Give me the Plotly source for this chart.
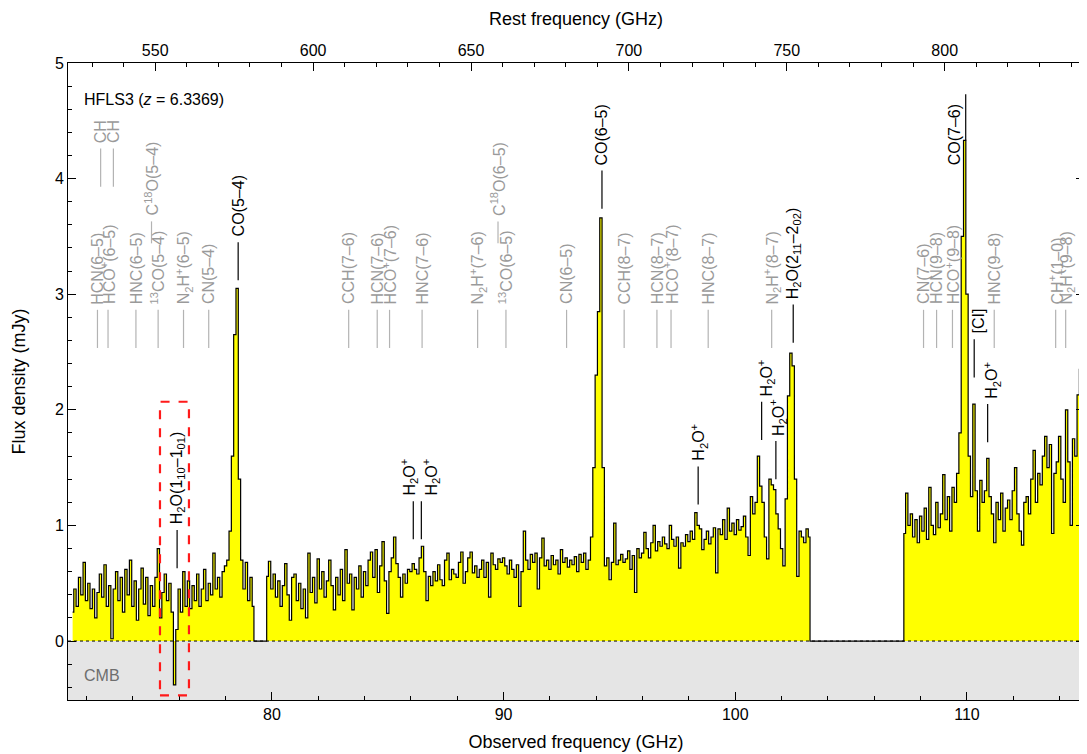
import numpy as np
import plotly.graph_objects as go

Z = 6.3369
CHAN = 0.1  # GHz channel width

# ---- spectrum (flux density in mJy), three observed-frequency segments ----
seg1_start = 71.4
seg1_flux = [0.25, 0.45, 0.30, 0.55, 0.40, 0.68,
             0.35, 0.50, 0.28, 0.45, 0.20, 0.42, 0.58, 0.38, 0.66, 0.30,
             0.48, 0.02, 0.45, 0.60, 0.35, 0.55, 0.25, 0.62, 0.40, 0.70,
             0.30, 0.52, 0.18, 0.45, 0.63, 0.32, 0.55, 0.22, 0.48, 0.30,
             0.55, 0.80, 0.20, 0.42, 0.58, 0.35, 0.50, 0.25, -0.38, 0.10,
             0.45, 0.25, 0.60, 0.30, 0.52, 0.28, 0.48, 0.35, 0.58, 0.30,
             0.45, 0.62, 0.35, 0.50, 0.40, 0.76, 0.45, 0.55, 0.38, 0.60,
             0.65, 0.70, 0.95, 1.60, 2.65, 3.05, 1.40, 0.70, 0.45, 0.68,
             0.35, 0.55, 0.30]

seg2_start = 79.8
seg2_flux = [0.56, 0.69,
             0.45, 0.58, 0.38, 0.52, 0.30, 0.48, 0.67, 0.40, 0.18, 0.55,
             0.58, 0.35, 0.50, 0.28, 0.45, 0.20, 0.76, 0.42, 0.55, 0.33,
             0.71, 0.45, 0.60, 0.38, 0.52, 0.70, 0.48, 0.27, 0.55, 0.40,
             0.62, 0.35, 0.79, 0.50, 0.58, 0.27, 0.55, 0.45, 0.65, 0.38,
             0.60, 0.48, 0.70, 0.77, 0.55, 0.79, 0.42, 0.65, 0.86, 0.52,
             0.24, 0.60, 0.72, 0.90, 0.67, 0.55, 0.38, 0.58, 0.50, 0.62,
             0.60, 0.67, 0.62, 0.58, 0.72, 0.82, 0.60, 0.35, 0.56, 0.48,
             0.60, 0.52, 0.66, 0.53, 0.48, 0.70, 0.76, 0.53, 0.62, 0.58,
             0.55, 0.68, 0.77, 0.50, 0.60, 0.72, 0.77, 0.59, 0.65, 0.55,
             0.62, 0.70, 0.55, 0.68, 0.38, 0.76, 0.66, 0.62, 0.71, 0.68,
             0.72, 0.65, 0.58, 0.70, 0.62, 0.55, 0.66, 0.30, 0.60, 0.95,
             0.70, 0.62, 0.75, 0.68, 0.76, 0.45, 0.72, 0.89, 0.65, 0.70,
             0.62, 0.74, 0.66, 0.70, 0.58, 0.79, 0.68, 0.72, 0.64, 0.70,
             0.66, 0.73, 0.60, 0.75, 0.68, 0.76, 0.62, 0.70, 0.90, 1.50,
             2.30, 2.85, 3.66, 1.50, 0.65, 0.72, 0.53, 0.68, 1.02, 0.66,
             0.70, 0.75, 0.68, 0.71, 0.78, 0.62, 0.74, 0.42, 0.80, 0.72,
             0.76, 0.94, 0.80, 0.72, 0.85, 1.00, 0.78, 0.86, 0.82, 0.90,
             0.84, 0.80, 1.00, 0.88, 0.82, 0.90, 0.63, 0.85, 0.82, 0.92,
             0.86, 0.95, 0.88, 1.11, 1.00, 0.97, 0.79, 0.88, 0.95, 0.84,
             0.90, 0.98, 0.59, 0.97, 0.92, 1.05, 0.88, 1.15, 0.95, 1.02,
             0.92, 1.05, 0.96, 0.99, 1.08, 0.90, 0.74, 1.25, 1.10, 1.20,
             1.60, 1.34, 1.20, 0.90, 0.71, 1.40, 1.35, 1.31, 1.10, 0.97,
             0.80, 0.65, 1.23, 2.12, 2.49, 2.38, 1.40, 0.56, 0.95, 0.90,
             0.85, 0.97, 0.90]

seg3_start = 107.3
seg3_flux = [0.93, 1.28,
             1.00, 1.10, 0.90, 1.05, 0.85,
             1.08, 0.95, 1.15, 0.88, 1.33, 1.00, 0.92, 1.20, 0.98, 1.10,
             1.44, 1.05, 1.25, 0.95, 1.33, 1.20, 1.45, 1.80, 3.50, 4.33,
             3.00, 1.60, 1.25, 2.05, 1.30, 0.95, 1.39, 1.20, 1.30, 1.58,
             1.25, 1.10, 0.85, 1.20, 1.05, 1.28, 0.95, 1.15, 1.22, 1.05,
             1.30, 1.50, 1.10, 0.95, 0.83, 1.20, 1.25, 1.10, 1.40, 1.65,
             1.20, 1.45, 1.35, 1.60, 1.77, 1.50, 1.70, 0.93, 1.45, 1.55,
             1.77, 1.40, 1.20, 2.00, 1.55, 1.00, 1.75, 1.60, 2.13, 2.35,
             1.60]

# ---- line identifications (rest frequencies, GHz) ----
grey_low_names = ["HCN(6–5)", "HCO<sup>+</sup>(6–5)", "HNC(6–5)", "<sup>13</sup>CO(5–4)",
                  "N<sub>2</sub>H<sup>+</sup>(6–5)", "CN(5–4)", "CCH(7–6)", "HCN(7–6)",
                  "HCO<sup>+</sup>(7–6)", "HNC(7–6)", "N<sub>2</sub>H<sup>+</sup>(7–6)",
                  "<sup>13</sup>CO(6–5)", "CN(6–5)", "CCH(8–7)", "HCN(8–7)",
                  "HCO<sup>+</sup>(8–7)", "HNC(8–7)", "N<sub>2</sub>H<sup>+</sup>(8–7)",
                  "CN(7–6)", "HCN(9–8)", "HCO<sup>+</sup>(9–8)", "HNC(9–8)",
                  "CH<sup>+</sup>(1–0)", "N<sub>2</sub>H<sup>+</sup>(9–8)"]
grey_low_rest = [531.716, 535.062, 543.898, 550.926, 558.967, 566.947, 611.267, 620.304,
                 624.208, 634.511, 652.096, 661.067, 680.264, 698.5, 708.877, 713.341,
                 725.107, 745.210, 793.3, 797.433, 802.458, 815.684, 835.137, 838.307]

grey_high_names = ["CH", "CH", "C<sup>18</sup>O(5–4)", "C<sup>18</sup>O(6–5)"]
grey_high_rest = [532.724, 536.761, 548.831, 658.553]

black_names = ["H<sub>2</sub>O(1<sub>10</sub>–1<sub>01</sub>)", "CO(5–4)",
               "H<sub>2</sub>O<sup>+</sup>", "H<sub>2</sub>O<sup>+</sup>", "CO(6–5)",
               "H<sub>2</sub>O<sup>+</sup>", "H<sub>2</sub>O<sup>+</sup>", "H<sub>2</sub>O<sup>+</sup>",
               "H<sub>2</sub>O(2<sub>11</sub>–2<sub>02</sub>)", "CO(7–6)", "[CI]",
               "H<sub>2</sub>O<sup>+</sup>"]
black_rest = [556.936, 576.268, 631.724, 634.274, 691.473, 721.927, 742.033, 746.541,
              752.033, 806.652, 809.342, 813.6]
# label placement (style): base of marker line (mJy), line length, text base, text x offset (px)
black_base = [0.63, 3.12, 0.88, 0.88, 3.74, 1.18, 1.74, 1.40, 2.58, 4.33, 2.28, 1.72]
black_len = [0.33, 0.33, 0.33, 0.33, 0.33, 0.33, 0.33, 0.33, 0.33, 0.40, 0.33, 0.33]
black_text = [None, None, None, None, None, None, None, None, None, 4.10, None, None]
black_xshift = [0, 0, -4, 10, 0, 0, 4, 2, 0, -11, 4, 4]

# ---- build spectrum ----
segments = [(seg1_start, seg1_flux), (seg2_start, seg2_flux), (seg3_start, seg3_flux)]
xs_all, ys_all = [], []
for i, (s, v) in enumerate(segments):
    xs = s + CHAN * np.arange(len(v))
    if i > 0:
        xs_all.append(xs[0] - CHAN / 2); ys_all.append(0.0)
    xs_all.extend(xs.tolist()); ys_all.extend(v)
    if i < len(segments) - 1:
        xs_all.append(xs[-1] + CHAN / 2); ys_all.append(0.0)

XMIN, XMAX = 71.2, 115.05
YMIN, YMAX = -0.51, 5.0
FONT = "Liberation Sans, Arial, Helvetica, sans-serif"
GREY_TXT = "#9a9a9a"
GREY_LN = "#b3b3b3"

fig = go.Figure()
fig.add_trace(go.Scatter(x=xs_all, y=ys_all, mode="lines",
                         line=dict(color="black", width=1.2, shape="hvh"),
                         fill="tozeroy", fillcolor="#ffff00",
                         hoverinfo="skip", showlegend=False))
# dummy trace for rest-frequency axis
fig.add_trace(go.Scatter(x=[XMIN * (1 + Z)], y=[None], xaxis="x2", yaxis="y",
                         mode="markers", showlegend=False, hoverinfo="skip"))

shapes = []
annotations = []
# CMB band
shapes.append(dict(type="rect", xref="paper", yref="y", x0=0, x1=1, y0=YMIN, y1=0,
                   fillcolor="#e5e5e5", line=dict(width=0), layer="below"))
shapes.append(dict(type="line", xref="paper", yref="y", x0=0, x1=1, y0=0, y1=0,
                   line=dict(color="black", width=1, dash="dot"), layer="above"))


def add_label(name, rest, base, length, color, lcolor, xshift=0, text_base=None):
    xo = rest / (1 + Z)
    shapes.append(dict(type="line", xref="x", yref="y", x0=xo, x1=xo, y0=base, y1=base + length,
                       line=dict(color=lcolor, width=1.2)))
    ty = base + length + 0.03 if text_base is None else text_base
    annotations.append(dict(x=xo, y=ty, xref="x", yref="y", text=name,
                            showarrow=False, textangle=-90, xanchor="center", yanchor="bottom",
                            xshift=xshift, font=dict(family=FONT, size=16, color=color)))


for n, r in zip(grey_low_names, grey_low_rest):
    add_label(n, r, 2.535, 0.33, GREY_TXT, GREY_LN)
for n, r in zip(grey_high_names[:2], grey_high_rest[:2]):
    add_label(n, r, 3.93, 0.33, GREY_TXT, GREY_LN)
for n, r in zip(grey_high_names[2:], grey_high_rest[2:]):
    add_label(n, r, 3.44, 0.19, GREY_TXT, GREY_LN)
for n, r, b, L, t, s in zip(black_names, black_rest, black_base, black_len, black_text, black_xshift):
    add_label(n, r, b, L, "black", "black", s, t)

# red dashed box around H2O(1_10-1_01) absorption
shapes.append(dict(type="rect", xref="x", yref="y", x0=75.17, x1=76.42, y0=-0.47, y1=2.07,
                   line=dict(color="#ff1a1a", width=2.2, dash="dash"), fillcolor="rgba(0,0,0,0)"))

annotations.append(dict(x=71.8, y=4.68, xref="x", yref="y", text="HFLS3 (<i>z</i> = 6.3369)",
                        showarrow=False, xanchor="left", yanchor="middle",
                        font=dict(family=FONT, size=16, color="black")))
annotations.append(dict(x=71.8, y=-0.3, xref="x", yref="y", text="CMB",
                        showarrow=False, xanchor="left", yanchor="middle",
                        font=dict(family=FONT, size=16, color="#6e6e6e")))

axis_common = dict(showgrid=False, zeroline=False, showline=True, linecolor="black", linewidth=1,
                   ticks="inside", ticklen=8, tickcolor="black", tickwidth=1, automargin=False,
                   tickfont=dict(family=FONT, size=16, color="black"))

# page body has an 8px margin, so the figure is sized to end at the window edge
fig.update_layout(
    width=1079, height=746,
    margin=dict(l=60, r=3, t=55, b=54),
    paper_bgcolor="white", plot_bgcolor="white",
    font=dict(family=FONT, size=16, color="black"),
    shapes=shapes, annotations=annotations,
    xaxis=dict(range=[XMIN, XMAX], dtick=10, tick0=0,
               minor=dict(dtick=2, ticks="inside", ticklen=4, tickcolor="black"),
               title=dict(text="Observed frequency (GHz)", standoff=13,
                          font=dict(family=FONT, size=18)),
               **axis_common),
    xaxis2=dict(range=[XMIN * (1 + Z), XMAX * (1 + Z)], overlaying="x", side="top",
                dtick=50, tick0=0, anchor="y",
                minor=dict(dtick=10, ticks="inside", ticklen=4, tickcolor="black"),
                title=dict(text="Rest frequency (GHz)", standoff=11,
                           font=dict(family=FONT, size=18)),
                **axis_common),
    yaxis=dict(range=[YMIN, YMAX], dtick=1, tick0=0, mirror="ticks",
               minor=dict(dtick=0.2, ticks="inside", ticklen=4, tickcolor="black"),
               title=dict(text="Flux density (mJy)", standoff=24,
                          font=dict(family=FONT, size=18)),
               **axis_common),
)

fig.write_html("out.html")
